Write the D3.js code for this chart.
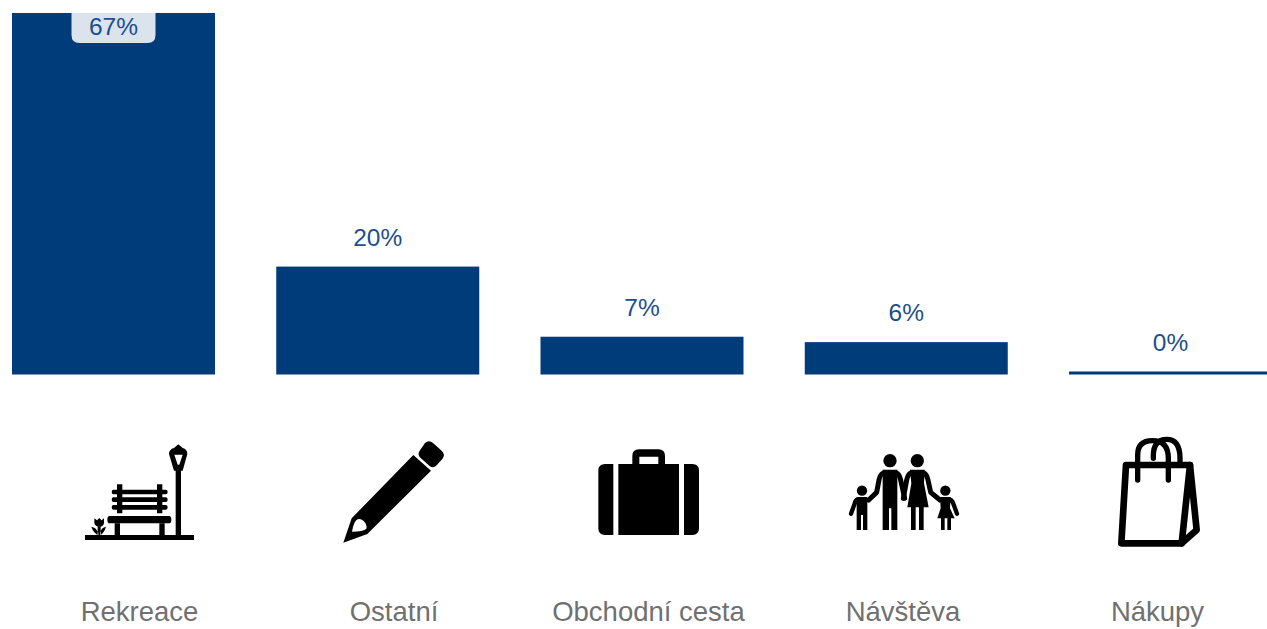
<!DOCTYPE html>
<html><head><meta charset="utf-8">
<script src="https://cdn.jsdelivr.net/npm/d3@7"></script>
<style>html,body{margin:0;padding:0;background:#fff;overflow:hidden}svg{display:block}text{font-family:"Liberation Sans",Arial,sans-serif}</style>
</head><body><svg id="c" width="1267" height="629"></svg>
<script>
const categories = ["Rekreace","Ostatní","Obchodní cesta","Návštěva","Nákupy"];
const values = [67,20,7,6,0];
const iconKeys = ["bench","pencil","case","family","bag"];

const ICONS = {
 bench:[
  ["f","M45 315H372V330H45Z"],
  ["f","M317 118H333V316H317Z"],
  ["f","M325 43L338 54Q352 58 352 72L338 122H312L297 72Q297 58 312 54Z M313 74L323 104H328L338 74Z"],
  ["f","M119 258H297Q304 258 304 269Q304 280 297 280H119Q112 280 112 269Q112 258 119 258Z"],
  ["f","M134 280H150V316H134Z M268 280H284V316H268Z"],
  ["f","M141 163H157V250H141Z M261 163H277V250H261Z"],
  ["f","M131 179H287Q293 179 293 186Q293 193 287 193H131Q125 193 125 186Q125 179 131 179Z M131 202H287Q293 202 293 209Q293 216 287 216H131Q125 216 125 209Q125 202 131 202Z M131 225H287Q293 225 293 232Q293 239 287 239H131Q125 239 125 232Q125 225 131 225Z"],
  ["f","M73 265L81 271L88 264L95 271L102 265L102 280Q100 290 89 291Q76 290 73 280Z M83 290H92V316H83Z M64 290Q78 292 85 308L85 316Q70 308 64 290Z M108 290Q94 292 90 308L90 316Q103 308 108 290Z"]
 ],
 pencil:[
  ["f","M285 39Q297 29 309 39L335 62Q347 73 337 87L320 106Q310 117 298 107L272 84Q260 74 270 61Z"],
  ["f","M250 75L303 122L112 312L40 338L65 265Z M83 268Q72 272 66 305Q100 305 109 296Q113 282 100 272Q92 265 83 268Z"]
 ],
 case:[
  ["f","M70 72V285H45Q25 285 25 265V92Q25 72 45 72Z"],
  ["f","M85 72H127V48Q127 28 147 28H205Q225 28 225 48V72H267V285H85Z M148 72H205V50H148Z"],
  ["f","M282 72V285H307Q327 285 327 265V92Q327 72 307 72Z"]
 ],
 family:[
  ["c",150,47,20],["c",232,47,20],["c",66,137,15.5],["c",316,137,15.5],
  ["f","M128 74H172L172 160V255H154V190H147V255H128V160Z"],
  ["f","M210 74H254L252 115L266 187H251V255H237V187H227V255H213V187H202L214 115Z"],
  ["w","M130 84Q120 88 117 105L110 142L86 165",15],
  ["w","M170 84Q178 88 182 105L194 160",15],
  ["w","M212 84Q204 88 200 105L190 160",15],
  ["w","M252 84Q260 88 264 105L272 142L300 165",15],
  ["f","M50 156H82V255H69V210H63V255H50Z"],
  ["w","M52 164Q46 166 44 176L33 206",13],
  ["f","M300 156H332L330 190L344 220H333V255H322V220H314V255H303V220H292L302 190Z"],
  ["w","M330 164Q336 166 340 176L351 206",13]
 ],
 bag:[
  ["s","M78 105H270L245 340H64Z",20],
  ["s","M270 105L290 300L245 340",20],
  ["s","M113 150V75Q113 32 157 32Q205 32 205 85V150",16],
  ["s","M160 85V78Q160 28 200 28Q240 28 240 85V100",16]
 ]
};

const svg = d3.select("#c");
const x = d3.scaleBand().domain(categories).range([12,1272]).paddingInner(0.2318).paddingOuter(0);
const y = d3.scaleLinear().domain([0,67]).range([374.5,13]);
const under = d3.scalePoint().domain(categories).range([139.5,1157.5]);
const blue = "#003b7a", labelBlue = "#1c4f8c", stub = 3;
const barTop = v => Math.min(y(v), y(0)-stub);

// bars (a zero value keeps a thin visible stub)
svg.append("g").selectAll("rect").data(categories).join("rect")
 .attr("x",d=>x(d)).attr("width",x.bandwidth())
 .attr("y",(d,i)=>barTop(values[i]))
 .attr("height",(d,i)=>y(0)-barTop(values[i]))
 .attr("fill",blue);

// value labels
categories.forEach((c,i)=>{
 const cx=x(c)+x.bandwidth()/2, t=barTop(values[i]), inside=t<40;
 if(inside){
  const w=84,h=30,r=8;
  svg.append("path").attr("fill","#dbe3ec")
   .attr("d",`M${cx-w/2} ${t}H${cx+w/2}V${t+h-r}Q${cx+w/2} ${t+h} ${cx+w/2-r} ${t+h}H${cx-w/2+r}Q${cx-w/2} ${t+h} ${cx-w/2} ${t+h-r}Z`);
 }
 svg.append("text").attr("x",cx).attr("y",inside?t+21.5:t-21)
  .attr("text-anchor","middle").attr("font-size",24.5).attr("fill",labelBlue).text(values[i]+"%");
});

// icons
const origin = {bench:[70,430],pencil:[330,430],case:[590,440],family:[840,445],bag:[1100,430]};
categories.forEach((c,i)=>{
 const k=iconKeys[i], o=origin[k];
 const g=svg.append("g").attr("transform",`translate(${o[0]},${o[1]}) scale(${1/3})`);
 ICONS[k].forEach(p=>{
  if(p[0]==="c") g.append("circle").attr("cx",p[1]).attr("cy",p[2]).attr("r",p[3]).attr("fill","#000");
  else if(p[0]==="f") g.append("path").attr("d",p[1]).attr("fill","#000").attr("fill-rule","evenodd");
  else g.append("path").attr("d",p[1]).attr("fill","none").attr("stroke","#000")
     .attr("stroke-width",p[2]).attr("stroke-linejoin","round").attr("stroke-linecap","round");
 });
});

// category labels
svg.append("g").selectAll("text").data(categories).join("text")
 .attr("x",d=>under(d)).attr("y",620.5).attr("text-anchor","middle")
 .attr("font-size",27.5).attr("fill","#707070").text(d=>d);
</script></body></html>
